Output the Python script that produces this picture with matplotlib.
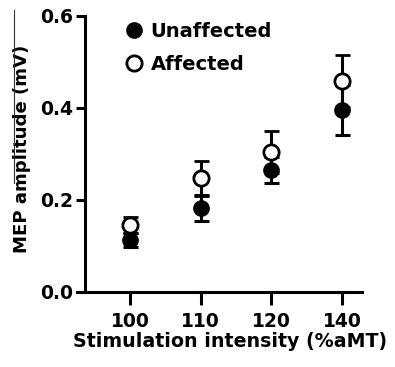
import matplotlib.pyplot as plt
from matplotlib.lines import Line2D

plt.rcParams['font.family'] = ['DejaVu Sans']
plt.rcParams['font.weight'] = 'bold'

intensity = ['100', '110', '120', '140']
unaffected = [0.112, 0.182, 0.265, 0.395]
unaffected_err = [0.015, 0.028, 0.028, 0.055]
affected = [0.145, 0.247, 0.304, 0.458]
affected_err = [0.018, 0.038, 0.045, 0.057]

fig = plt.figure(figsize=(3.95, 3.67), dpi=100)
ax = fig.add_axes([0.195, 0.205, 0.7215, 0.752])

x = range(len(intensity))
ax.errorbar(x, unaffected, yerr=unaffected_err, fmt='o', color='black',
            markersize=11, elinewidth=2.2, capsize=5.4, capthick=2.2,
            label='Unaffected', zorder=3)
ax.errorbar(x, affected, yerr=affected_err, fmt='o', color='black',
            markerfacecolor='white', markeredgewidth=2.0, markersize=11,
            elinewidth=2.2, capsize=5.4, capthick=2.2, label='Affected', zorder=4)

ax.set_xlim(-0.75, 3.28)
ax.set_ylim(0, 0.6)
ax.set_xticks(list(x))
ax.set_xticklabels(intensity)
ax.set_yticks([0.0, 0.2, 0.4, 0.6])
ax.set_yticklabels(['0.0', '0.2', '0.4', '0.6'])

for s in ['top', 'right']:
    ax.spines[s].set_visible(False)
ax.spines['left'].set_position(('data', -0.64))
for s in ['left', 'bottom']:
    ax.spines[s].set_linewidth(2.2)
    ax.spines[s].set_capstyle('projecting')

ax.tick_params(axis='x', length=9.5, width=2.2, labelsize=13.5, pad=5)
ax.tick_params(axis='y', length=6.5, width=2.2, labelsize=13.5, pad=2)
ax.set_xlabel('Stimulation intensity (%aMT)', fontsize=13.7, fontweight='bold', labelpad=1)
ax.xaxis.label.set_x(0.537)
ax.set_ylabel('MEP amplitude (mV)', fontsize=13.1, fontweight='bold')
ax.yaxis.set_label_coords(-0.16, 0.517)

handles = [Line2D([], [], marker='o', linestyle='none', color='black', markersize=11),
           Line2D([], [], marker='o', linestyle='none', color='black',
                  markerfacecolor='white', markeredgewidth=2.0, markersize=11)]
ax.legend(handles, ['Unaffected', 'Affected'], loc='upper left',
          bbox_to_anchor=(0.118, 1.04), frameon=False, handlelength=0.6,
          handletextpad=0.55, labelspacing=0.7, prop={'size': 14, 'weight': 'bold'})

# thin scan line next to the y label
fig.add_artist(Line2D([14 / 395, 14 / 395], [1 - 10 / 367, 1 - 183 / 367],
                      color='#333333', linewidth=0.8))

fig.savefig('out.png', dpi=100)
